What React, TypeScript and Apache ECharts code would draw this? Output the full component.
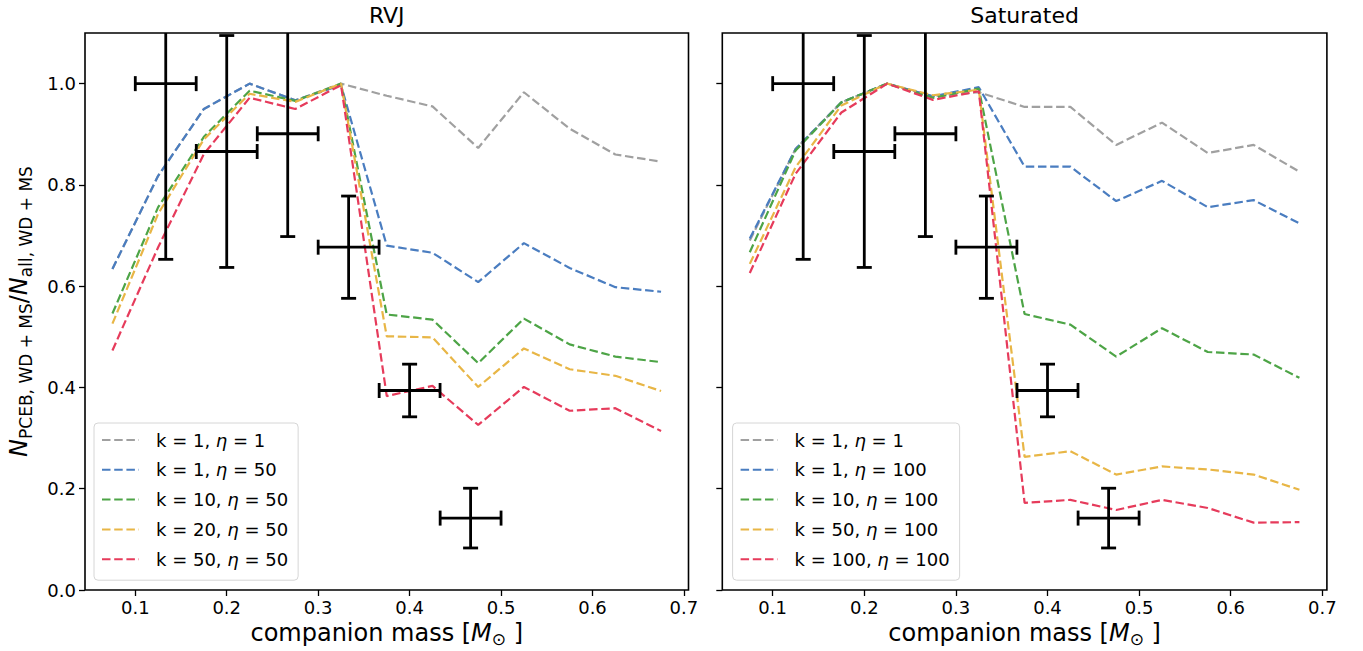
import React, { useEffect, useRef } from "react";
import * as echarts from "echarts";

// ---------- data ----------
const masses = [0.075, 0.125, 0.175, 0.225, 0.275, 0.325, 0.375, 0.425, 0.475, 0.525, 0.575, 0.625, 0.675];

const rvjNames = ["k = 1, η = 1", "k = 1, η = 50", "k = 10, η = 50", "k = 20, η = 50", "k = 50, η = 50"];
const rvjK1e1 = [0.634, 0.818, 0.95, 1.0, 0.967, 1.0, 0.976, 0.955, 0.873, 0.983, 0.911, 0.86, 0.846];
const rvjK1e50 = [0.634, 0.818, 0.95, 1.0, 0.967, 0.997, 0.68, 0.666, 0.608, 0.685, 0.636, 0.598, 0.589];
const rvjK10e50 = [0.546, 0.756, 0.895, 0.986, 0.966, 1.0, 0.544, 0.534, 0.448, 0.536, 0.485, 0.461, 0.45];
const rvjK20e50 = [0.526, 0.743, 0.89, 0.98, 0.964, 1.0, 0.501, 0.499, 0.401, 0.477, 0.436, 0.423, 0.393];
const rvjK50e50 = [0.473, 0.677, 0.861, 0.972, 0.95, 0.997, 0.383, 0.403, 0.326, 0.401, 0.354, 0.359, 0.314];

const satNames = ["k = 1, η = 1", "k = 1, η = 100", "k = 10, η = 100", "k = 50, η = 100", "k = 100, η = 100"];
const satK1e1 = [0.69, 0.871, 0.963, 1.0, 0.975, 0.983, 0.954, 0.954, 0.879, 0.923, 0.863, 0.879, 0.826];
const satK1e100 = [0.694, 0.871, 0.963, 1.0, 0.975, 0.993, 0.836, 0.836, 0.768, 0.808, 0.756, 0.77, 0.724];
const satK10e100 = [0.667, 0.868, 0.963, 1.0, 0.972, 0.99, 0.545, 0.524, 0.461, 0.517, 0.47, 0.465, 0.419];
const satK50e100 = [0.644, 0.835, 0.957, 1.0, 0.977, 0.988, 0.263, 0.274, 0.228, 0.244, 0.238, 0.228, 0.198];
const satK100e100 = [0.626, 0.822, 0.943, 1.0, 0.968, 0.985, 0.172, 0.178, 0.158, 0.178, 0.162, 0.133, 0.134];

// observed fractions with error bars
const obsMass = [0.1333, 0.2, 0.2667, 0.3333, 0.4, 0.4667];
const obsMassErr = [0.0333, 0.0333, 0.0333, 0.0333, 0.0333, 0.0333];
const obsFrac = [1.0, 0.866, 0.901, 0.677, 0.394, 0.142];
const obsFracErr = [0.347, 0.229, 0.203, 0.101, 0.052, 0.059];

const xTicks = [0.1, 0.2, 0.3, 0.4, 0.5, 0.6, 0.7];
const yTicks = [0.0, 0.2, 0.4, 0.6, 0.8, 1.0];

const panelTitles = ["RVJ", "Saturated"];
const colors = ["#a0a0a0", "#4a7dc0", "#4da446", "#e8b646", "#e63b5b"];

// ---------- styling ----------
const FONT = "DejaVu Sans";
const grids = [
  { left: 85, top: 33, width: 603.5, height: 557 },
  { left: 722.3, top: 33, width: 604.6, height: 557 },
];

function App() {
  const ref = useRef<HTMLDivElement>(null);

  useEffect(() => {
    document.body.style.margin = "0";
    if (!ref.current) return;
    const chart = echarts.init(ref.current, null, { renderer: "svg" });

    const mathRich = {
      t: { fontFamily: FONT, fontSize: 24, color: "#000", lineHeight: 30 },
      i: { fontFamily: FONT, fontSize: 24, fontStyle: "italic", color: "#000", lineHeight: 30 },
      s: { fontFamily: FONT, fontSize: 17, color: "#000", lineHeight: 16, verticalAlign: "bottom" },
    };

    const xAxes = grids.map((_, gi) => ({
      type: "value",
      gridIndex: gi,
      min: 0.045,
      max: 0.705,
      axisLine: { show: false },
      axisTick: { show: true, length: 6, lineStyle: { color: "#000", width: 1.3 }, customValues: xTicks },
      axisLabel: {
        customValues: xTicks,
        formatter: (v: number) => v.toFixed(1),
        fontSize: 18,
        fontFamily: FONT,
        color: "#000",
        margin: 8,
      },
      splitLine: { show: false },
      name: "{t|companion mass [}{i|M}{s|⊙}{t| ]}",
      nameLocation: "middle",
      nameGap: 21,
      nameTextStyle: { rich: mathRich },
    }));

    const yAxes = grids.map((_, gi) => ({
      type: "value",
      gridIndex: gi,
      min: 0,
      max: 1.1,
      axisLine: { show: false },
      axisTick: { show: true, length: 6, lineStyle: { color: "#000", width: 1.3 }, customValues: yTicks },
      axisLabel: {
        show: gi === 0,
        customValues: yTicks,
        formatter: (v: number) => v.toFixed(1),
        fontSize: 18,
        fontFamily: FONT,
        color: "#000",
        margin: 9,
      },
      splitLine: { show: false },
      name: gi === 0 ? "{i|N}{s|PCEB, WD + MS}{t|/}{i|N}{s|all, WD + MS}" : "",
      nameLocation: "middle",
      nameRotate: 90,
      nameGap: 51,
      nameTextStyle: { rich: mathRich },
    }));

    const panels = [
      { names: rvjNames, values: [rvjK1e1, rvjK1e50, rvjK10e50, rvjK20e50, rvjK50e50] },
      { names: satNames, values: [satK1e1, satK1e100, satK10e100, satK50e100, satK100e100] },
    ];

    const series: any[] = [];
    panels.forEach((p, gi) => {
      p.values.forEach((vals, si) => {
        series.push({
          type: "line",
          name: p.names[si],
          xAxisIndex: gi,
          yAxisIndex: gi,
          symbol: "none",
          z: 2 + si * 0.01,
          data: masses.map((m, k) => [m, vals[k]]),
          lineStyle: { color: colors[si], width: 2.2, type: [8.5, 3.7] },
          itemStyle: { color: colors[si] },
        });
      });
      series.push({
        type: "custom",
        xAxisIndex: gi,
        yAxisIndex: gi,
        z: 5,
        silent: true,
        encode: { x: 0, y: 1 },
        data: obsMass.map((m, k) => [m, obsFrac[k], obsMassErr[k], obsFracErr[k]]),
        renderItem: (params: any, api: any) => {
          const x = api.value(0);
          const y = api.value(1);
          const dx = api.value(2);
          const dy = api.value(3);
          const cs = params.coordSys;
          const c = api.coord([x, y]);
          const l = api.coord([x - dx, y]);
          const r = api.coord([x + dx, y]);
          const t = api.coord([x, y + dy]);
          const b = api.coord([x, y - dy]);
          const topLim = cs.y;
          const cap = 7.5;
          const st = { stroke: "#000", lineWidth: 2.8 };
          const children: any[] = [];
          const tClamped = t[1] < topLim;
          const ty = tClamped ? topLim : t[1];
          children.push({ type: "line", shape: { x1: c[0], y1: ty, x2: c[0], y2: b[1] }, style: st });
          children.push({ type: "line", shape: { x1: l[0], y1: c[1], x2: r[0], y2: c[1] }, style: st });
          if (!tClamped)
            children.push({ type: "line", shape: { x1: c[0] - cap, y1: t[1], x2: c[0] + cap, y2: t[1] }, style: st });
          children.push({ type: "line", shape: { x1: c[0] - cap, y1: b[1], x2: c[0] + cap, y2: b[1] }, style: st });
          children.push({ type: "line", shape: { x1: l[0], y1: c[1] - cap, x2: l[0], y2: c[1] + cap }, style: st });
          children.push({ type: "line", shape: { x1: r[0], y1: c[1] - cap, x2: r[0], y2: c[1] + cap }, style: st });
          return { type: "group", children };
        },
      });
    });

    const legendRich = {
      t: { fontFamily: FONT, fontSize: 18, color: "#000", lineHeight: 22 },
      i: { fontFamily: FONT, fontSize: 18, fontStyle: "italic", color: "#000", lineHeight: 22 },
    };
    const legendFmt = (name: string) => {
      const [a, b] = name.split("η");
      return `{t|${a}}{i|η}{t|${b}}`;
    };
    const legends = [
      { data: rvjNames, left: 94 },
      { data: satNames, left: 732.6 },
    ].map((lg) => ({
      data: lg.data,
      orient: "vertical",
      left: lg.left,
      top: 423,
      itemWidth: 37,
      itemHeight: 14,
      itemGap: 11.8,
      padding: [8, 10, 12, 7],
      backgroundColor: "#fff",
      borderColor: "#d6d6d6",
      borderWidth: 1,
      borderRadius: 4,
      selectedMode: false,
      formatter: legendFmt,
      itemStyle: { opacity: 0, borderWidth: 0 },
      textStyle: { rich: legendRich, padding: [0, 0, 0, 12], fontFamily: FONT, fontSize: 18 },
    }));

    const titles = panelTitles.map((txt, gi) => ({
      type: "text",
      x: grids[gi].left + grids[gi].width / 2,
      y: 15,
      style: {
        text: txt,
        fontFamily: FONT,
        fontSize: 22,
        fill: "#000",
        align: "center",
        verticalAlign: "middle",
      },
    }));

    chart.setOption({
      animation: false,
      backgroundColor: "#fff",
      grid: grids.map((g) => ({
        ...g,
        show: true,
        borderColor: "#000",
        borderWidth: 1.6,
        backgroundColor: "transparent",
        outerBoundsMode: "none",
      })),
      xAxis: xAxes,
      yAxis: yAxes,
      legend: legends,
      series,
      graphic: titles,
    });

    return () => chart.dispose();
  }, []);

  return <div ref={ref} style={{ width: 1363, height: 651 }} />;
}

export default App;
